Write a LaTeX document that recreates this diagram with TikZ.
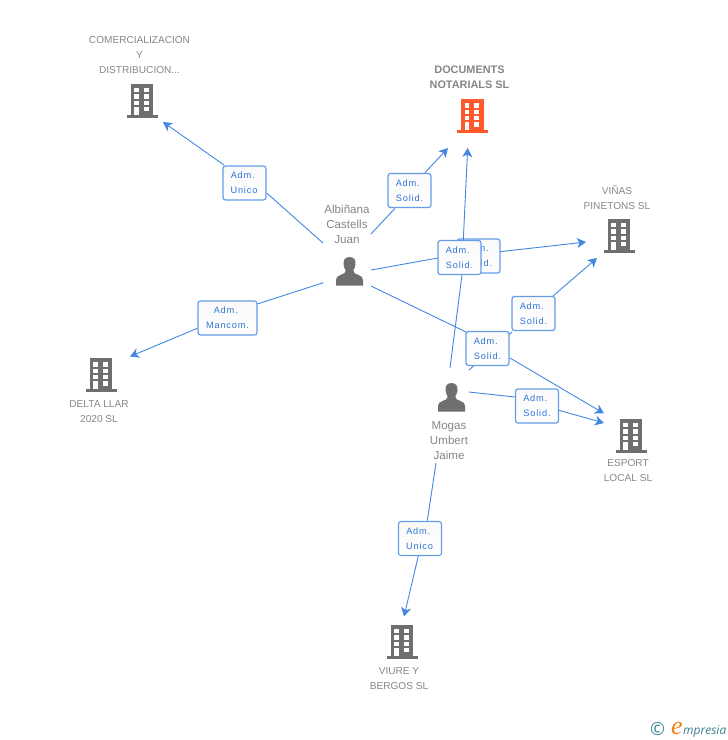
\documentclass[tikz,border=0pt]{standalone}
\usepackage{fontspec}
\setmainfont{Liberation Sans}
\newfontfamily\lablfont[LetterSpace=9]{Liberation Sans}
\newfontfamily\brandfont{Liberation Serif}
\newfontfamily\brandsans{Open Sans}
\usetikzlibrary{arrows.meta}
\newcommand{\admline}{Adm.\kern3.5pt}
\definecolor{linkblue}{HTML}{4287E0}
\definecolor{boxblue}{HTML}{659CE8}
\definecolor{labblue}{HTML}{2F74D6}
\definecolor{iconred}{HTML}{FF5A2D}
\definecolor{icongray}{HTML}{6F6F6F}
\definecolor{txtgray}{HTML}{868686}
\definecolor{brandteal}{HTML}{3A7E96}
\definecolor{brandorange}{HTML}{F08019}
\tikzset{
  x=1pt,y=-1pt,
  link/.style={draw=linkblue,line width=0.9pt},
  tolink/.style={link,-{Stealth[length=9pt,width=10pt,inset=2.5pt]}},
  rolebox/.style={draw=boxblue,line width=1.2pt,rounded corners=2.5pt,top color=black!2,bottom color=white,
    minimum width=43pt,minimum height=34pt,inner sep=0pt,align=center,
    text=labblue,font=\lablfont\fontsize{9.2}{15}\selectfont},
  widebox/.style={rolebox,minimum width=59pt},
  caption/.style={text=txtgray,align=center,inner sep=0pt,font=\fontsize{10.1}{15}\selectfont},
  personcap/.style={caption,font=\fontsize{11.6}{15}\selectfont},
  maincap/.style={caption,font=\bfseries\fontsize{10.9}{15}\selectfont},
  building/.pic={
    \fill[#1] (-11.5,-17) rectangle (11,14.5);
    \fill[#1] (-15.5,14) rectangle (15.5,17);
    \foreach \yy in {-12.7,-6.3,0.1}{
      \fill[white] (-7.8,\yy) rectangle (-3.2,\yy+4.3);
      \fill[white] (1.8,\yy) rectangle (6.5,\yy+4.3);
    }
    \fill[white] (-7.8,6.3) rectangle (-3.2,14);
    \fill[white] (1.8,6.3) rectangle (6.5,10.6);
  },
  personicon/.pic={
    \fill[icongray] (0,-14.5) .. controls (-5,-14.5) and (-6.5,-10.5) .. (-6,-7)
      .. controls (-5.7,-4) and (-4.5,-2.5) .. (-3.8,-1) .. controls (-3.8,1.5) and (-6,2.5) .. (-9,3.5)
      .. controls (-12,4.5) and (-13.5,6) .. (-13.5,8.5) -- (-13.5,14) -- (13.5,14) -- (13.5,8.5)
      .. controls (13.5,6) and (12,4.5) .. (9,3.5) .. controls (6,2.5) and (3.8,1.5) .. (3.8,-1)
      .. controls (4.5,-2.5) and (5.7,-4) .. (6,-7) .. controls (6.5,-10.5) and (5,-14.5) .. (0,-14.5) -- cycle;
  }
}
\begin{document}
\begin{tikzpicture}
\useasboundingbox (0,0) rectangle (728,740);
% icons
\pic at (142,100.5) {building=icongray};
\pic at (472.5,116) {building=iconred};
\pic at (619,235.5) {building=icongray};
\pic at (101,375) {building=icongray};
\pic at (631,435.5) {building=icongray};
\pic at (402,641.5) {building=icongray};
\pic at (349.5,271.5) {personicon};
\pic at (451.5,397.5) {personicon};
% captions
\node[caption] (capcom) at (139.5,55.5) {COMERCIALIZACION\\Y\\DISTRIBUCION...};
\node[maincap] (capdoc) at (469.5,77) {DOCUMENTS\\NOTARIALS SL};
\node[caption] (capvin) at (617,197.5) {VIÑAS\\PINETONS SL};
\node[caption] (capdel) at (99,411.5) {DELTA LLAR\\2020 SL};
\node[caption] (capesp) at (628,471) {ESPORT\\LOCAL SL};
\node[caption] (capviu) at (399,678.5) {VIURE Y\\BERGOS SL};
\node[personcap] (capalb) at (347,224) {Albiñana\\Castells\\Juan};
\node[personcap] (capmog) at (449,440.5) {Mogas\\Umbert\\Jaime};
% connector ends: from a person to the box, and from the box to a company
\coordinate (a1) at (323,243);   \coordinate (i1) at (266.7,193);  \coordinate (o1) at (224,165);     \coordinate (t1) at (163,122);
\coordinate (a2) at (371,234);   \coordinate (i2) at (395,208.3);  \coordinate (o2) at (425,172.7);   \coordinate (t2) at (448,148);
\coordinate (a3) at (371,270);   \coordinate (i3) at (438,258);    \coordinate (o3) at (500,251.7);   \coordinate (t3) at (586,242);
\coordinate (a4) at (323.3,282.7); \coordinate (i4) at (257.3,304); \coordinate (o4) at (197.3,328.3); \coordinate (t4) at (130,356.5);
\coordinate (a5) at (371,286);   \coordinate (i5) at (466,332);    \coordinate (o5) at (510,358);     \coordinate (t5) at (604,413.5);
\coordinate (b1) at (450,368);   \coordinate (j1) at (462,275);    \coordinate (q1) at (463.3,240);   \coordinate (u1) at (467.7,148);
\coordinate (b2) at (469,370);   \coordinate (j2) at (512,332);    \coordinate (q2) at (553,296);     \coordinate (u2) at (597,258);
\coordinate (b3) at (469,392);   \coordinate (j3) at (515,397);    \coordinate (q3) at (558,410);     \coordinate (u3) at (604,423);
\coordinate (b4) at (436,463);   \coordinate (j4) at (427.3,520.7); \coordinate (q4) at (418.3,556);  \coordinate (u4) at (404,616.5);
% connectors
\draw[link] (a1) -- (i1); \draw[tolink] (o1) -- (t1);
\draw[link] (a2) -- (i2); \draw[tolink] (o2) -- (t2);
\draw[link] (a3) -- (i3); \draw[tolink] (o3) -- (t3);
\draw[link] (a4) -- (i4); \draw[tolink] (o4) -- (t4);
\draw[link] (a5) -- (i5); \draw[tolink] (o5) -- (t5);
\draw[link] (b2) -- (j2); \draw[tolink] (q2) -- (u2);
\draw[link] (b3) -- (j3); \draw[tolink] (q3) -- (u3);
\draw[link] (b4) -- (j4); \draw[tolink] (q4) -- (u4);
% role boxes
\node[rolebox] (r1) at (244.5,183) {\admline\\Unico\kern1pt};
\node[rolebox] (r2) at (409.5,190.5) {\admline\\Solid.};
\node[rolebox] (r3) at (478.5,256) {\admline\\Solid.};
\draw[link] (b1) -- (j1); \draw[tolink] (q1) -- (u1);
\node[widebox] (r4) at (227.5,318) {\admline\\Mancom.};
\node[rolebox] (s2) at (533.5,313.5) {\admline\\Solid.};
\node[rolebox] (r5) at (487.5,348.5) {\admline\\Solid.};
\node[rolebox] (s1) at (459.5,257.5) {\admline\\Solid.};
\node[rolebox] (s3) at (537,406) {\admline\\Solid.};
\node[rolebox] (s4) at (420,538.5) {\admline\\Unico\kern1pt};
% brand
\node[inner sep=0pt,text=brandteal,font=\brandsans\fontsize{18}{18}\selectfont] (copy) at (657.5,729) {©};
\node[inner sep=0pt,anchor=base west,text=brandorange,font=\brandfont\itshape\fontsize{26}{26}\selectfont] (brande) at (671,734) {e};
\node[inner sep=0pt,anchor=base west,text=brandteal,font=\brandsans\itshape\fontsize{12}{12}\selectfont] (brandt) at (683,734) {mpresia};
\end{tikzpicture}
\end{document}
